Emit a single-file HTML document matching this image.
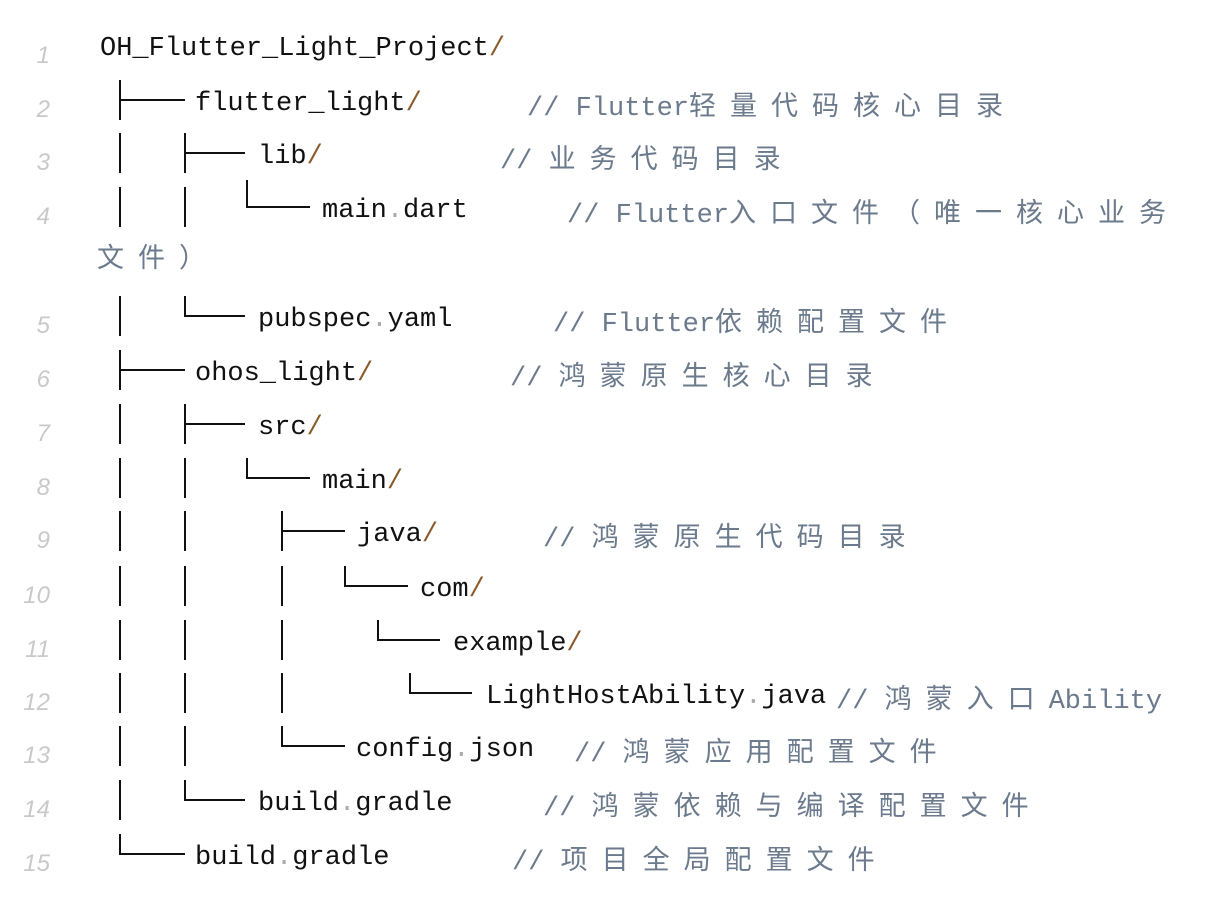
<!DOCTYPE html>
<html><head><meta charset="utf-8"><style>
html,body{margin:0;padding:0;background:#fff;}
body{width:1218px;height:924px;position:relative;overflow:hidden;font-family:"Liberation Mono","Noto Sans CJK SC",monospace;}
.t{position:absolute;font-size:27px;line-height:36px;color:#111;white-space:nowrap;}
.n{position:absolute;width:50px;text-align:right;left:0;font-size:24px;line-height:36px;color:#c9c9c9;font-style:italic;font-family:"Liberation Sans",sans-serif;}
.c{position:absolute;font-size:27px;line-height:36px;color:#6b7a8c;white-space:nowrap;}
.z{font-family:"Noto Sans CJK SC",sans-serif;letter-spacing:14px;font-size:27px;}
.s{color:#8a5a2a;}
.d{color:#aaa;}
svg{position:absolute;left:0;top:0;}
.w{position:relative;top:4px;}
</style></head><body>
<svg width="1218" height="924" stroke="#111" stroke-width="2" fill="none">
<path d="M120 80V120M120 100H185"/>
<path d="M120 133V173M185 133V173M185 153H245"/>
<path d="M120 187V227M185 187V227M247 180V207H310"/>
<path d="M120 296V336M185 296V316H245"/>
<path d="M120 350V390M120 370H185"/>
<path d="M120 404V444M185 404V444M185 424H245"/>
<path d="M120 458V498M185 458V498M247 458V478H310"/>
<path d="M120 511V551M185 511V551M282 511V551M282 531H345"/>
<path d="M120 566V606M185 566V606M282 566V606M345 566V586H408"/>
<path d="M120 620V660M185 620V660M282 620V660M378 620V640H440"/>
<path d="M120 673V713M185 673V713M282 673V713M410 673V693H472"/>
<path d="M120 726V766M185 726V766M282 726V746H345"/>
<path d="M120 780V820M185 780V800H245"/>
<path d="M120 834V854H185"/>
</svg>
<div class="w">
<div class="n" style="top:34px">1</div>
<div class="n" style="top:88px">2</div>
<div class="n" style="top:141px">3</div>
<div class="n" style="top:195px">4</div>
<div class="n" style="top:304px">5</div>
<div class="n" style="top:358px">6</div>
<div class="n" style="top:412px">7</div>
<div class="n" style="top:466px">8</div>
<div class="n" style="top:519px">9</div>
<div class="n" style="top:574px">10</div>
<div class="n" style="top:628px">11</div>
<div class="n" style="top:681px">12</div>
<div class="n" style="top:734px">13</div>
<div class="n" style="top:788px">14</div>
<div class="n" style="top:842px">15</div>

<div class="t" style="left:100px;top:27px">OH_Flutter_Light_Project<span class="s">/</span></div>
<div class="t" style="left:195px;top:82px">flutter_light<span class="s">/</span></div>
<div class="c" style="left:527px;top:82px">// Flutter<span class="z">轻量代码核心目录</span></div>
<div class="t" style="left:258px;top:135px">lib<span class="s">/</span></div>
<div class="c" style="left:500px;top:135px">// <span class="z">业务代码目录</span></div>
<div class="t" style="left:322px;top:189px">main<span class="d">.</span>dart</div>
<div class="c" style="left:567px;top:189px">// Flutter<span class="z">入口文件（唯一核心业务</span></div>
<div class="c" style="left:97px;top:234px"><span class="z">文件）</span></div>
<div class="t" style="left:258px;top:298px">pubspec<span class="d">.</span>yaml</div>
<div class="c" style="left:553px;top:298px">// Flutter<span class="z">依赖配置文件</span></div>
<div class="t" style="left:195px;top:352px">ohos_light<span class="s">/</span></div>
<div class="c" style="left:510px;top:352px">// <span class="z">鸿蒙原生核心目录</span></div>
<div class="t" style="left:258px;top:406px">src<span class="s">/</span></div>
<div class="t" style="left:322px;top:460px">main<span class="s">/</span></div>
<div class="t" style="left:357px;top:513px">java<span class="s">/</span></div>
<div class="c" style="left:543px;top:513px">// <span class="z">鸿蒙原生代码目录</span></div>
<div class="t" style="left:420px;top:568px">com<span class="s">/</span></div>
<div class="t" style="left:453px;top:622px">example<span class="s">/</span></div>
<div class="t" style="left:486px;top:675px">LightHostAbility<span class="d">.</span>java</div>
<div class="c" style="left:836px;top:675px">// <span class="z">鸿蒙入口</span>Ability</div>
<div class="t" style="left:356px;top:728px">config<span class="d">.</span>json</div>
<div class="c" style="left:574px;top:728px">// <span class="z">鸿蒙应用配置文件</span></div>
<div class="t" style="left:258px;top:782px">build<span class="d">.</span>gradle</div>
<div class="c" style="left:543px;top:782px">// <span class="z">鸿蒙依赖与编译配置文件</span></div>
<div class="t" style="left:195px;top:836px">build<span class="d">.</span>gradle</div>
<div class="c" style="left:512px;top:836px">// <span class="z">项目全局配置文件</span></div>
</div>
</body></html>
